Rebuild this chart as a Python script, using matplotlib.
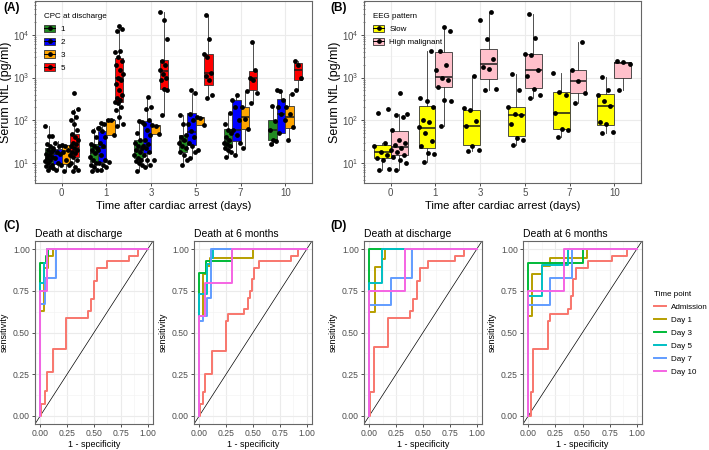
import numpy as np
import matplotlib
matplotlib.use('Agg')
import matplotlib.pyplot as plt
from matplotlib.patches import Patch
from matplotlib.lines import Line2D
from matplotlib.ticker import LogLocator, NullFormatter

plt.rcParams['font.family'] = ['Liberation Sans', 'DejaVu Sans']
plt.rcParams['mathtext.fontset'] = 'custom'
plt.rcParams['mathtext.rm'] = 'Liberation Sans'
plt.rcParams['mathtext.it'] = 'Liberation Sans:italic'
plt.rcParams['mathtext.bf'] = 'Liberation Sans:bold'

days = ['0', '1', '3', '5', '7', '10']

# box stats per day: (lower whisker, q1, median, q3, upper whisker)
cpc1_box = [(6.5, 9.8, 15, 22, 73), (6.5, 10.4, 17, 28, 65), (6.5, 13, 20, 35, 95),
            (9, 18, 32, 46, 130), (14, 23.5, 32, 62, 150), (27, 34, 60, 100, 220)]
cpc2_box = [(7, 9.7, 16.5, 21, 32), (7, 10.4, 22.5, 57, 85), (8, 17.6, 27, 94, 360),
            (13, 27, 54, 146, 430), (15, 32, 60, 300, 400), (50, 51, 140, 316, 520)]
cpc3_box = [(6.5, 9.6, 18.7, 27, 27), (46, 46, 100, 100, 100), (48, 48, 75, 78, 78),
            (78, 78, 115, 122, 122), (22, 62, 118, 210, 480), (35, 66, 118, 217, 420)]
cpc5_box = [(6.5, 14, 22.5, 47, 180), (75, 275, 960, 2800, 16000), (135, 530, 1400, 2600, 35000),
            (330, 680, 1300, 3600, 29000), (250, 510, 1000, 1450, 6800), (500, 880, 1500, 2240, 2500)]

cpc1_pts = [[7, 7.5, 8, 8.5, 9, 10, 11, 12, 13, 14, 15, 16, 18, 20, 22, 25, 28, 42, 44, 73],
            [6.5, 7, 8, 9, 10, 12, 14, 17, 20, 22, 25, 28, 40, 55, 65],
            [6.5, 9, 10, 11, 12, 13, 15, 18, 20, 22, 25, 30, 35, 50, 90, 95],
            [9, 12, 15, 18, 22, 25, 30, 35, 40, 45, 80, 130],
            [14, 18, 20, 22, 25, 28, 30, 35, 40, 50, 60, 80, 150],
            [28, 32, 35, 60, 95, 220]]
cpc2_pts = [[7, 9, 10, 13, 16, 18, 20, 25, 30],
            [7, 8, 9, 10, 12, 15, 20, 25, 30, 40, 55, 65, 80, 85],
            [8, 9, 12, 15, 18, 22, 25, 28, 35, 45, 60, 80, 100, 180, 200, 360],
            [13, 18, 25, 30, 40, 55, 80, 100, 140, 430, 520],
            [15, 30, 45, 60, 100, 200, 300, 400],
            [50, 100, 140, 200, 300, 480, 520]]
cpc3_pts = [[6.5, 9, 12, 18, 20, 25, 27],
            [10.5, 46, 100, 100],
            [12, 48, 75, 78],
            [20, 78, 115, 122],
            [22, 62, 110, 200, 480],
            [35, 70, 140, 200, 420]]
cpc5_pts = [[6.5, 7, 8, 10, 12, 14, 15, 17, 18, 20, 22, 25, 28, 30, 35, 40, 48, 60, 80, 100, 120, 155, 180, 440],
            [75, 80, 120, 170, 200, 250, 270, 300, 340, 400, 500, 700, 900, 1000, 1200, 1500, 2000, 2500,
             3000, 4000, 4200, 12000, 14000, 16000],
            [135, 520, 550, 900, 1000, 1200, 1500, 2000, 2500, 8000, 22000, 35000],
            [330, 400, 900, 1100, 1300, 3000, 3500, 8000, 29000],
            [250, 430, 900, 1000, 1500, 6800],
            [500, 1000, 2000, 2500]]

slow_box = [(7, 13, 18, 27, 30), (10.5, 22, 66, 220, 4100), (19, 26, 75, 175, 1100),
            (27, 42, 134, 210, 1200), (40, 62, 150, 450, 1300), (50, 78, 220, 415, 1050)]
hm_box = [(7, 15, 23.5, 55, 140), (75, 590, 1020, 4000, 15000), (520, 930, 2040, 4600, 35000),
          (330, 560, 1500, 3600, 30000), (250, 430, 850, 1500, 6800), (500, 1000, 2150, 2300, 2500)]
slow_pts = [[7, 7.2, 12, 13, 15, 18, 25, 30, 150, 180],
            [10.5, 16, 17, 25, 33, 50, 70, 90, 100, 200, 280, 330, 4100],
            [19, 20, 25, 75, 95, 170, 190, 1100],
            [27, 35, 38, 80, 130, 140, 200, 520, 1200],
            [40, 60, 62, 150, 400, 470, 1300],
            [50, 52, 80, 90, 220, 280, 400, 520, 1050]]
hm_pts = [[7, 10, 12, 14, 15, 18, 20, 23, 27, 30, 35, 60, 120, 130, 140, 440],
          [75, 280, 300, 600, 900, 1000, 1500, 2000, 4200, 12000, 15000],
          [510, 540, 1600, 1800, 2700, 8000, 22000, 35000],
          [330, 400, 550, 1100, 1500, 3400, 3500, 8500, 30000],
          [250, 430, 850, 1500, 6800],
          [500, 2100, 2300, 2500]]

# ROC curves: (1 - specificity, sensitivity) at the start of each horizontal step
time_points = ['Admission', 'Day 1', 'Day 3', 'Day 5', 'Day 7', 'Day 10']
roc_colors = ['#F8766D', '#B79F00', '#00BA38', '#00BFC4', '#619CFF', '#F564E3']

c1_x = [[0, 0.01, 0.04, 0.06, 0.12, 0.24, 0.44, 0.47, 0.50, 0.53, 0.62, 0.83, 0.91, 1.0],
        [0, 0, 0.03, 0.07, 0.12, 1], [0, 0, 0.05, 0.07, 1], [0, 0, 0.03, 0.06, 1],
        [0, 0, 0.04, 0.15, 1], [0, 0, 0.06, 1]]
c1_y = [[0, 0.07, 0.15, 0.26, 0.40, 0.59, 0.63, 0.70, 0.81, 0.89, 0.93, 0.96, 1.0, 1.0],
        [0, 0.63, 0.89, 0.96, 1, 1], [0, 0.92, 0.96, 1, 1], [0, 0.80, 0.92, 1, 1],
        [0, 0.67, 0.83, 1, 1], [0, 0.75, 1, 1]]
c2_x = [[0, 0.01, 0.03, 0.05, 0.12, 0.25, 0.27, 0.42, 0.45, 0.47, 0.49, 0.51, 0.56, 0.85, 0.92, 1],
        [0, 0, 0.03, 0.07, 0.10, 0.50, 1], [0, 0, 0.06, 0.30, 1], [0, 0, 0.07, 0.11, 0.13, 1],
        [0, 0, 0.03, 0.07, 0.11, 1], [0, 0, 0.05, 0.30, 1]]
c2_y = [[0, 0.07, 0.14, 0.25, 0.39, 0.57, 0.61, 0.64, 0.71, 0.75, 0.82, 0.89, 0.93, 0.96, 1, 1],
        [0, 0.60, 0.85, 0.90, 0.95, 1, 1], [0, 0.86, 0.93, 1, 1], [0, 0.73, 0.91, 0.95, 1, 1],
        [0, 0.57, 0.60, 0.71, 1, 1], [0, 0.60, 0.80, 1, 1]]
d1_x = [[0, 0.01, 0.04, 0.17, 0.38, 0.41, 0.44, 0.47, 0.55, 0.80, 0.88, 1],
        [0, 0, 0.055, 0.115, 0.15, 1], [0, 0, 1], [0, 0, 0.115, 1],
        [0, 0, 0.2, 0.4, 1], [0, 0, 0.33, 1]]
d1_y = [[0, 0.14, 0.41, 0.59, 0.63, 0.70, 0.81, 0.89, 0.93, 0.96, 1, 1],
        [0, 0.625, 0.895, 0.94, 1, 1], [0, 1, 1], [0, 0.8, 1, 1],
        [0, 0.665, 0.83, 1, 1], [0, 0.75, 1, 1]]
d2_x = [[0, 0.025, 0.04, 0.18, 0.2, 0.37, 0.39, 0.41, 0.44, 0.55, 0.77, 0.91, 1],
        [0, 0, 0.03, 0.13, 0.2, 0.545, 1], [0, 0, 0.5, 1], [0, 0, 0.13, 0.37, 1],
        [0, 0, 0.2, 0.4, 1], [0, 0, 0.33, 1]]
d2_y = [[0, 0.14, 0.40, 0.57, 0.61, 0.64, 0.72, 0.82, 0.89, 0.93, 0.96, 1, 1],
        [0, 0.60, 0.85, 0.90, 0.945, 1, 1], [0, 0.92, 1, 1], [0, 0.72, 0.905, 1, 1],
        [0, 0.665, 0.83, 1, 1], [0, 0.75, 1, 1]]

cpc_colors = ['#228B22', '#0000FF', '#FFA500', '#FF0000']
eeg_colors = ['#FFFF00', '#FFC0CB']

W, H = 709, 450
fig = plt.figure(figsize=(W / 100, H / 100), dpi=100)


def axes_px(l, t, r, b):
    return fig.add_axes([l / W, 1 - b / H, (r - l) / W, (b - t) / H])


TICK_C = '#4d4d4d'
GRID_C = '#ebebeb'
BORDER_C = '#666666'


def frame(ax, fs):
    for s in ax.spines.values():
        s.set_color(BORDER_C)
        s.set_linewidth(0.8)
    ax.tick_params(which='major', length=2.2, width=0.6, color='#333333', labelcolor=TICK_C,
                   labelsize=fs, pad=1.5)
    ax.set_axisbelow(True)


def draw_boxes(ax, boxes, pts, offset, width, color):
    stats = [dict(whislo=b[0], q1=b[1], med=b[2], q3=b[3], whishi=b[4], fliers=[]) for b in boxes]
    pos = np.arange(len(boxes)) + offset
    ax.bxp(stats, positions=pos, widths=width, patch_artist=True, showcaps=False, showfliers=False,
           boxprops=dict(facecolor=color, edgecolor='#333333', linewidth=0.6),
           medianprops=dict(color='#1a1a1a', linewidth=1.1),
           whiskerprops=dict(color='#333333', linewidth=0.6), zorder=2)
    for i, p in enumerate(pts):
        n = len(p)
        jit = ((np.arange(n) * 0.618 + 0.3) % 1 - 0.5) * width * 1.0
        ax.scatter(pos[i] + jit, p, s=12, color='black', zorder=3, linewidths=0)


def style_log(ax):
    ax.set_yscale('log')
    ax.set_ylim(3.4, 6.2e4)
    ax.set_xlim(-0.6, 5.6)
    ax.set_xticks(range(len(days)), days)
    ax.set_yticks([10, 100, 1000, 10000], ['$10^{1}$', '$10^{2}$', '$10^{3}$', '$10^{4}$'])
    ax.yaxis.set_minor_locator(LogLocator(base=10, subs=np.arange(2, 10), numticks=20))
    ax.yaxis.set_minor_formatter(NullFormatter())
    ax.tick_params(axis='y', which='minor', length=1.5, width=0.5, color='#555555', direction='inout')
    for k in range(1, 5):
        ax.axhline(10 ** (k - 0.5), color='#f4f4f4', lw=0.5, zorder=0)
    ax.grid(True, which='major', color=GRID_C, lw=0.8)
    frame(ax, 7)
    ax.set_xlabel('Time after cardiac arrest (days)', fontsize=8, labelpad=2)
    ax.set_ylabel('Serum NfL (pg/ml)', fontsize=9, labelpad=1)


def box_legend(ax, colors, labels, title):
    h = [(Patch(facecolor=c, edgecolor='#333333', lw=0.6),
          Line2D([], [], color='black', lw=0.7, marker='o', ms=2.4)) for c in colors]
    ax.legend(h, labels, title=title, loc='upper left', bbox_to_anchor=(0.022, 1 - 9 / 182),
              frameon=False, fontsize=5.8, title_fontsize=5.8, handlelength=1.3,
              handleheight=1.05, labelspacing=0.55, handletextpad=0.7,
              alignment='left', borderaxespad=0)


# panel A
axA = axes_px(35, 1, 312, 183)
offs = [-0.28125, -0.09375, 0.09375, 0.28125]
for bx, pt, off, col in zip([cpc1_box, cpc2_box, cpc3_box, cpc5_box],
                            [cpc1_pts, cpc2_pts, cpc3_pts, cpc5_pts], offs, cpc_colors):
    draw_boxes(axA, bx, pt, off, 0.1875, col)
style_log(axA)
box_legend(axA, cpc_colors, ['1', '2', '3', '5'], 'CPC at discharge')

# panel B
axB = axes_px(364, 1, 641, 183)
for bx, pt, off, col in zip([slow_box, hm_box], [slow_pts, hm_pts], [-0.1875, 0.1875], eeg_colors):
    draw_boxes(axB, bx, pt, off, 0.375, col)
style_log(axB)
box_legend(axB, eeg_colors, ['Slow', 'High malignant'], 'EEG pattern')


def roc_panel(l, r, title, xs, ys):
    ax = axes_px(l, 241, r, 424)
    ax.set_xlim(-0.05, 1.05)
    ax.set_ylim(-0.05, 1.05)
    ticks = [0, 0.25, 0.5, 0.75, 1.0]
    labs = ['0.00', '0.25', '0.50', '0.75', '1.00']
    ax.set_xticks(ticks, labs)
    ax.set_yticks(ticks, labs)
    mins = [0.125, 0.375, 0.625, 0.875]
    ax.set_xticks(mins, minor=True)
    ax.set_yticks(mins, minor=True)
    ax.tick_params(which='minor', length=0)
    ax.grid(True, which='major', color=GRID_C, lw=0.8)
    ax.grid(True, which='minor', color='#f4f4f4', lw=0.5)
    frame(ax, 6.2)
    ax.axline((0, 0), (1, 1), color='black', lw=0.5, zorder=1)
    for x, y, c in zip(xs, ys, roc_colors):
        ax.step(x, y, where='post', color=c, lw=1.4, zorder=2)
    ax.set_title(title, loc='left', fontsize=7.5, pad=3)
    ax.set_xlabel('1 - specificity', fontsize=6.5, labelpad=1.5)
    ax.set_ylabel('sensitivity', fontsize=6.5, labelpad=3)
    return ax


roc_panel(35, 153, 'Death at discharge', c1_x, c1_y)
roc_panel(194, 312, 'Death at 6 months', c2_x, c2_y)
roc_panel(364, 482, 'Death at discharge', d1_x, d1_y)
roc_panel(523, 642, 'Death at 6 months', d2_x, d2_y)

hD = [Line2D([], [], color=c, lw=1.4) for c in roc_colors]
fig.legend(hD, time_points, title='Time point', loc='upper left', bbox_to_anchor=(652 / W, 1 - 289 / H),
           frameon=False, fontsize=5.8, title_fontsize=5.8, handlelength=1.4, handletextpad=0.6,
           labelspacing=0.65, alignment='left', borderaxespad=0, borderpad=0.3)

for lab, x, y in [('(A)', 3, 8), ('(B)', 330, 8), ('(C)', 3, 226), ('(D)', 330, 226)]:
    fig.text(x / W, 1 - y / H, lab, fontsize=8.5, fontweight='bold', va='center', ha='left')

fig.savefig('out.png', dpi=100)
